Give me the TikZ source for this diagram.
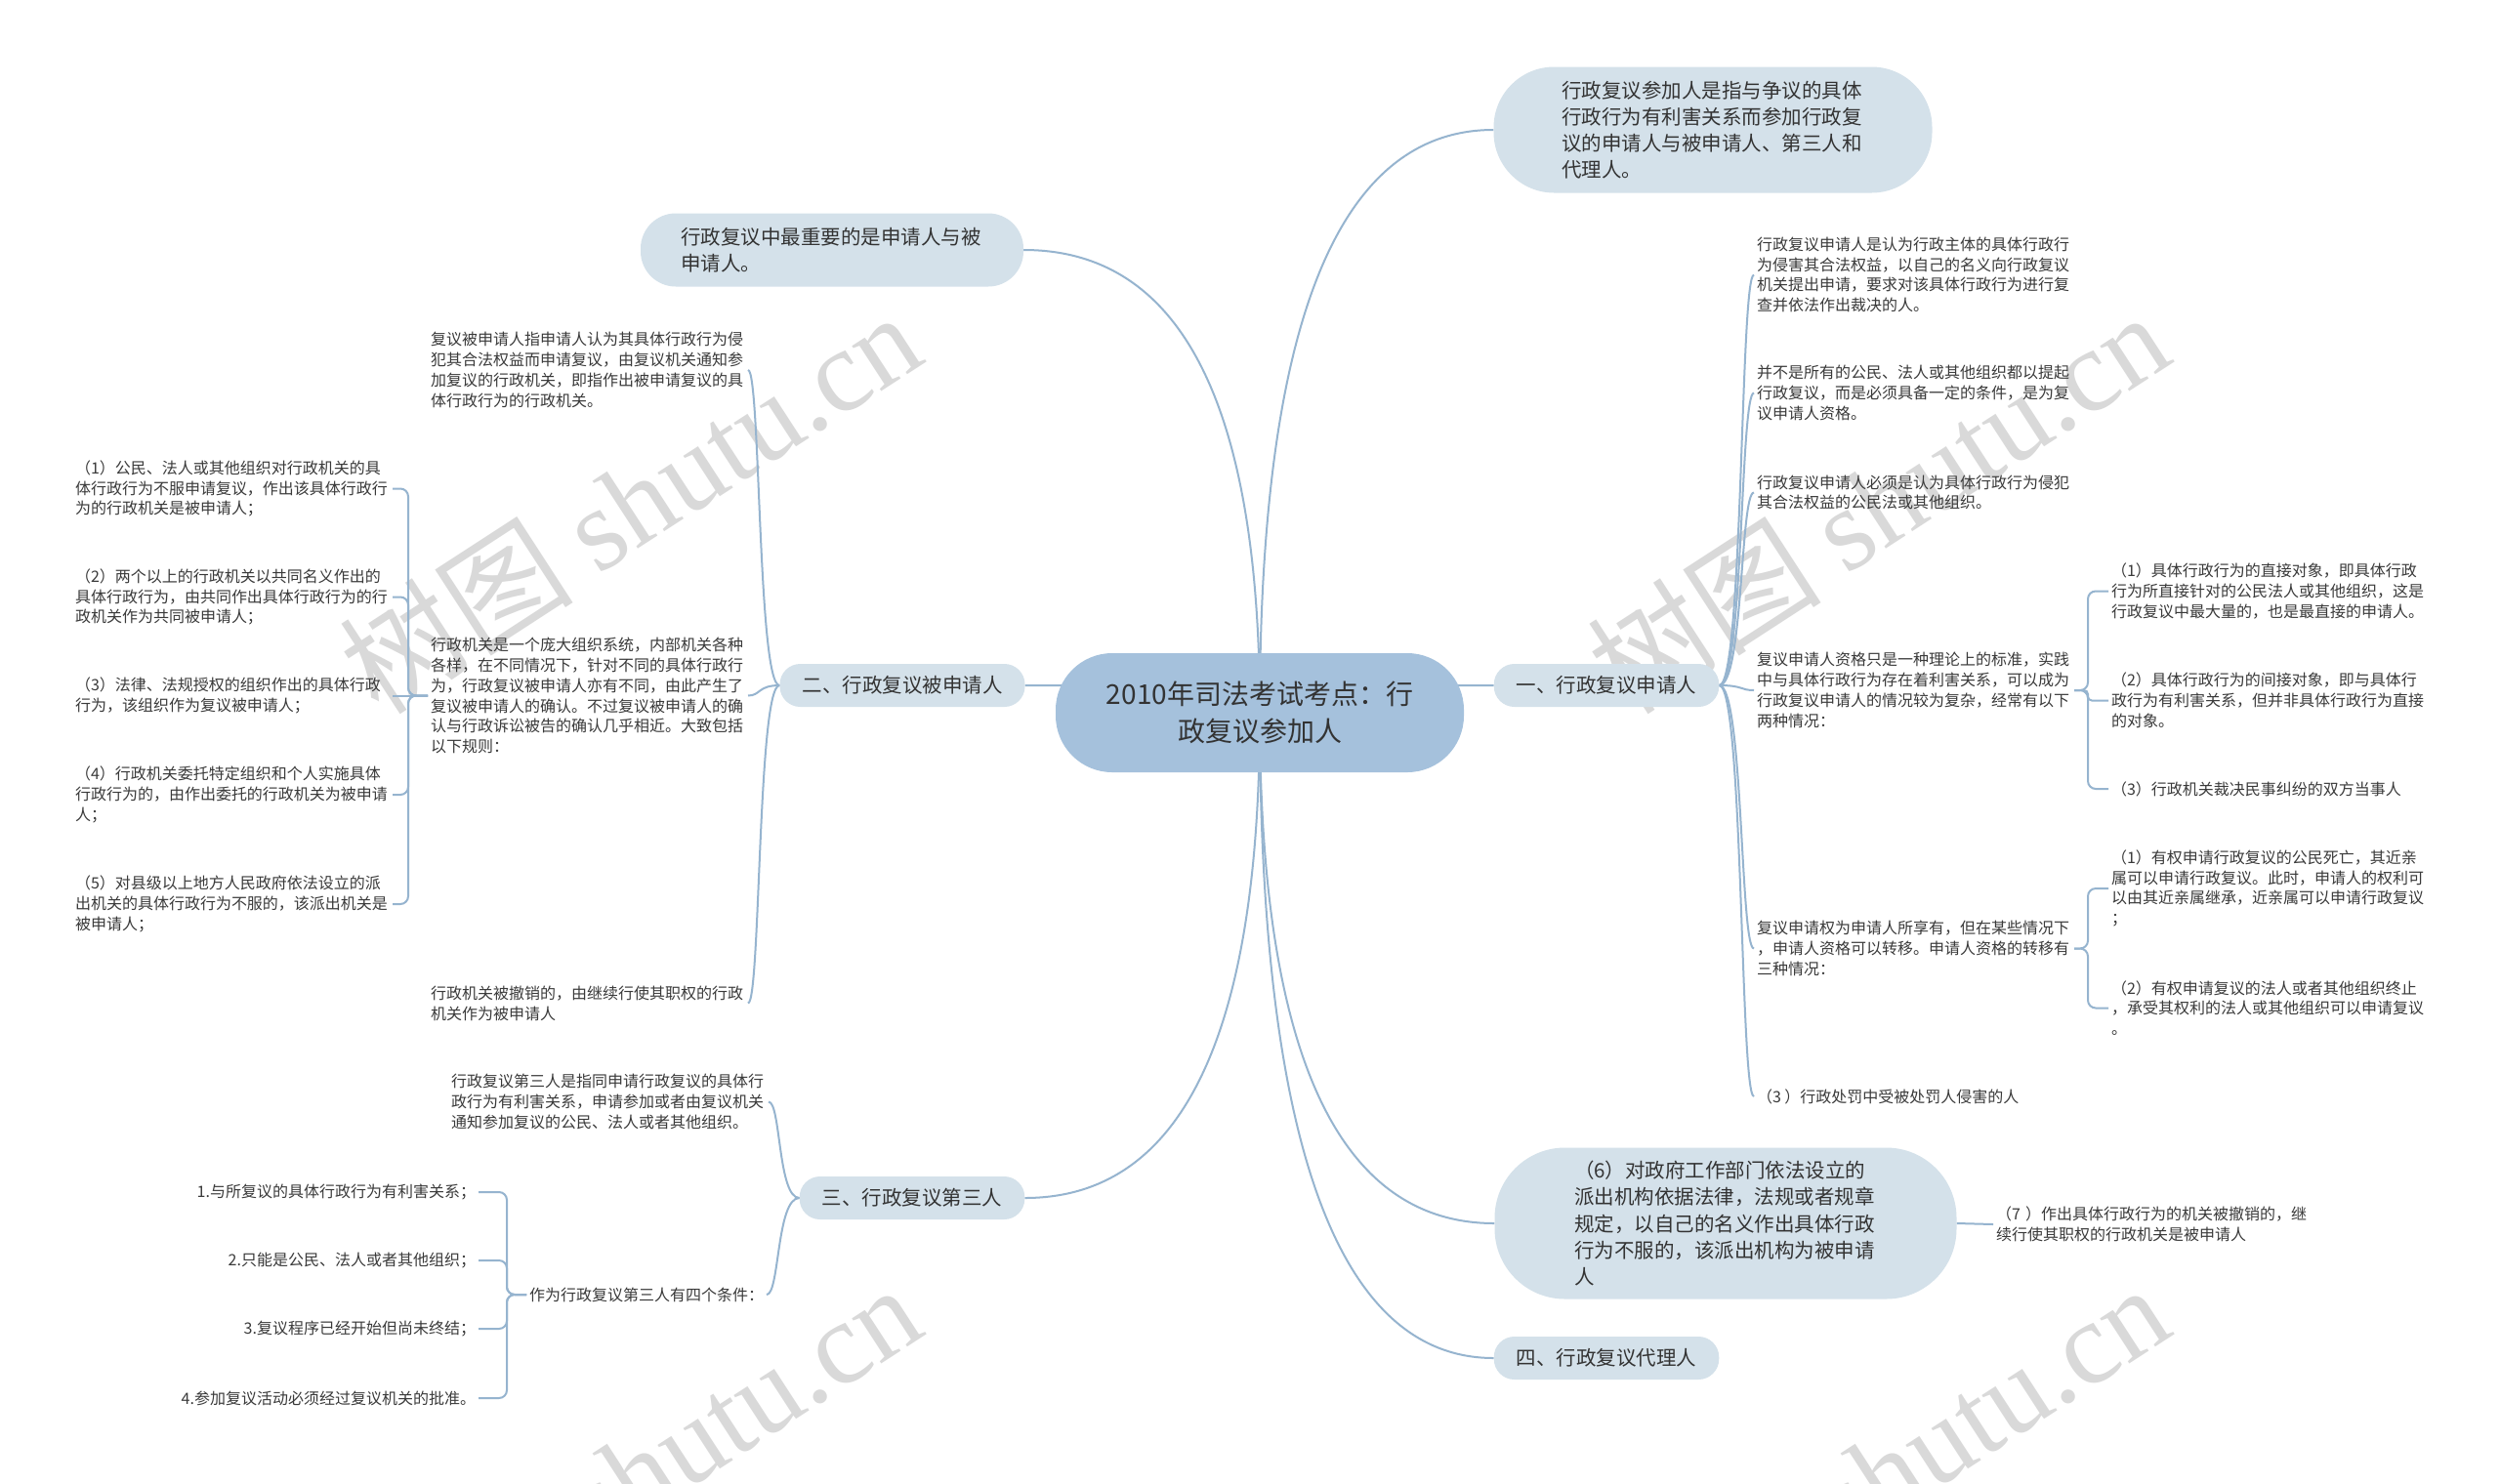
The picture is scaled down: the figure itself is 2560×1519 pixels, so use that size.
\documentclass[tikz,border=0pt]{standalone}
\usepackage{fontspec}
\setmainfont{Noto Sans CJK SC}
\newfontfamily\wmlatin{Liberation Serif}
\usetikzlibrary{calc}
\pgfdeclarelayer{wm}
\pgfdeclarelayer{background}
\pgfsetlayers{wm,background,main}
\definecolor{rootc}{HTML}{A5C1DC}
\definecolor{lonec}{HTML}{D4E1EA}
\definecolor{linec}{HTML}{96B4CF}
\definecolor{txtc}{HTML}{333333}
\definecolor{leaftxt}{HTML}{3A3A3A}
\definecolor{wmc}{HTML}{D9D9D9}
\newcommand\fsroot{\fontsize{28pt}{37.5pt}\selectfont}
\newcommand\fsone{\fontsize{20.5pt}{27.2pt}\selectfont}
\newcommand\fsleaf{\fontsize{16pt}{20.8pt}\selectfont}
\newcommand\rcurve[2]{\draw[conn] (#1) .. controls ($(#1)!0.667!(#1|-#2)$) and ($(#2)!0.667!(#1|-#2)$) .. (#2);}
\newcommand\scurve[2]{\draw[conn] (#1) .. controls ($(#1)!0.7!(#1-|#2)$) and ($(#2-|#1)!0.6!(#2)$) .. (#2);}
\newcommand\elbow[4]{\draw[conn,rounded corners=#4] (#1) -- ++(#3,0) |- (#2);}
\tikzset{
  conn/.style={draw=linec, line width=2pt},
  rootnode/.style={fill=rootc, text=txtc, font=\fsroot, align=center, minimum width=418pt, minimum height=122pt, rounded corners=58pt, inner sep=0pt},
  onenode/.style={fill=lonec, text=txtc, font=\fsone, align=left, inner ysep=0pt},
  smallone/.style={onenode, minimum height=44pt, inner xsep=23pt, rounded corners=21pt},
  leaf/.style={text=leaftxt, font=\fsleaf, align=left, inner sep=3pt, outer sep=0pt},
  wm/.style={text=wmc, font=\fontsize{120pt}{120pt}\selectfont, rotate=33, inner sep=0pt}
}
\begin{document}
\begin{tikzpicture}[x=1pt,y=-1pt]
\useasboundingbox (0,0) rectangle (2560,1519);
\begin{pgfonlayer}{wm}
\fill[white] (0,0) rectangle (2560,1519);
\node[wm] (w1) at (645,514) {树图 {\wmlatin shutu.cn}};
\node[wm] (w2) at (1923,514) {树图 {\wmlatin shutu.cn}};
\node[wm] (w3) at (645,1510) {树图 {\wmlatin shutu.cn}};
\node[wm] (w4) at (1923,1510) {树图 {\wmlatin shutu.cn}};
\end{pgfonlayer}

% root and first level
\node[rootnode] (root) at (1290,730) {2010年司法考试考点：行\\政复议参加人};
\node[onenode, text width=310pt, minimum width=449pt, minimum height=129pt, rounded corners=62pt] (A) at (1754,133)
  {行政复议参加人是指与争议的具体\\行政行为有利害关系而参加行政复\\议的申请人与被申请人、第三人和\\代理人。};
\node[smallone] (n1) at (1645,702) {一、行政复议申请人};
\node[onenode, text width=310pt, minimum width=473pt, minimum height=155pt, rounded corners=72pt] (n6) at (1767,1253)
  {（6）对政府工作部门依法设立的\\派出机构依据法律，法规或者规章\\规定，以自己的名义作出具体行政\\行为不服的，该派出机构为被申请\\人};
\node[smallone] (n4) at (1645,1391) {四、行政复议代理人};
\node[leaf, anchor=west, text width=322pt] (p7) at (2041,1254) {（7 ）作出具体行政行为的机关被撤销的，继\\续行使其职权的行政机关是被申请人};
\node[onenode, text width=310pt, minimum width=392pt, minimum height=75pt, rounded corners=36pt] (L0) at (852,256)
  {行政复议中最重要的是申请人与被\\申请人。};
\node[smallone] (n2) at (924,702) {二、行政复议被申请人};
\node[smallone] (n3) at (934,1227) {三、行政复议第三人};

% branch one
\node[leaf, anchor=west, text width=322pt] (c1) at (1796,281.5) {行政复议申请人是认为行政主体的具体行政行\\为侵害其合法权益，以自己的名义向行政复议\\机关提出申请，要求对该具体行政行为进行复\\查并依法作出裁决的人。};
\node[leaf, anchor=west, text width=322pt] (c2) at (1796,402.5) {并不是所有的公民、法人或其他组织都以提起\\行政复议，而是必须具备一定的条件，是为复\\议申请人资格。};
\node[leaf, anchor=west, text width=322pt] (c3) at (1796,504.5) {行政复议申请人必须是认为具体行政行为侵犯\\其合法权益的公民法或其他组织。};
\node[leaf, anchor=west, text width=322pt] (c4) at (1796,707) {复议申请人资格只是一种理论上的标准，实践\\中与具体行政行为存在着利害关系，可以成为\\行政复议申请人的情况较为复杂，经常有以下\\两种情况：};
\node[leaf, anchor=west, text width=322pt] (c5) at (1796,971.5) {复议申请权为申请人所享有，但在某些情况下\\，申请人资格可以转移。申请人资格的转移有\\三种情况：};
\node[leaf, anchor=west] (c6) at (1796,1123) {（3 ）行政处罚中受被处罚人侵害的人};
\node[leaf, anchor=west, text width=330pt] (d1) at (2159,605.5) {（1）具体行政行为的直接对象，即具体行政\\行为所直接针对的公民法人或其他组织，这是\\行政复议中最大量的，也是最直接的申请人。};
\node[leaf, anchor=west, text width=330pt] (d2) at (2159,717.5) {（2）具体行政行为的间接对象，即与具体行\\政行为有利害关系，但并非具体行政行为直接\\的对象。};
\node[leaf, anchor=west] (d3) at (2159,808) {（3）行政机关裁决民事纠纷的双方当事人};
\node[leaf, anchor=west, text width=330pt] (k1) at (2159,910) {（1）有权申请行政复议的公民死亡，其近亲\\属可以申请行政复议。此时，申请人的权利可\\以由其近亲属继承，近亲属可以申请行政复议\\；};
\node[leaf, anchor=west, text width=330pt] (k2) at (2159,1032.5) {（2）有权申请复议的法人或者其他组织终止\\，承受其权利的法人或其他组织可以申请复议\\。};

% branch two
\node[leaf, anchor=west, text width=322pt] (e1) at (438,379) {复议被申请人指申请人认为其具体行政行为侵\\犯其合法权益而申请复议，由复议机关通知参\\加复议的行政机关，即指作出被申请复议的具\\体行政行为的行政机关。};
\node[leaf, anchor=west, text width=322pt] (e2) at (438,712.5) {行政机关是一个庞大组织系统，内部机关各种\\各样，在不同情况下，针对不同的具体行政行\\为，行政复议被申请人亦有不同，由此产生了\\复议被申请人的确认。不过复议被申请人的确\\认与行政诉讼被告的确认几乎相近。大致包括\\以下规则：};
\node[leaf, anchor=west, text width=322pt] (e3) at (438,1027.5) {行政机关被撤销的，由继续行使其职权的行政\\机关作为被申请人};
\node[leaf, anchor=west, text width=322pt] (f1) at (74,500.5) {（1）公民、法人或其他组织对行政机关的具\\体行政行为不服申请复议，作出该具体行政行\\为的行政机关是被申请人；};
\node[leaf, anchor=west, text width=322pt] (f2) at (74,611.5) {（2）两个以上的行政机关以共同名义作出的\\具体行政行为，由共同作出具体行政行为的行\\政机关作为共同被申请人；};
\node[leaf, anchor=west, text width=322pt] (f3) at (74,712.5) {（3）法律、法规授权的组织作出的具体行政\\行为，该组织作为复议被申请人；};
\node[leaf, anchor=west, text width=322pt] (f4) at (74,814) {（4）行政机关委托特定组织和个人实施具体\\行政行为的，由作出委托的行政机关为被申请\\人；};
\node[leaf, anchor=west, text width=322pt] (f5) at (74,926) {（5）对县级以上地方人民政府依法设立的派\\出机关的具体行政行为不服的，该派出机关是\\被申请人；};

% branch three
\node[leaf, anchor=west, text width=322pt] (g1) at (459,1128.5) {行政复议第三人是指同申请行政复议的具体行\\政行为有利害关系，申请参加或者由复议机关\\通知参加复议的公民、法人或者其他组织。};
\node[leaf, anchor=west] (g2) at (539,1326) {作为行政复议第三人有四个条件：};
\node[leaf, anchor=east, align=right] (h1) at (490,1221) {1.与所复议的具体行政行为有利害关系；};
\node[leaf, anchor=east, align=right] (h2) at (490,1291) {2.只能是公民、法人或者其他组织；};
\node[leaf, anchor=east, align=right] (h3) at (490,1361) {3.复议程序已经开始但尚未终结；};
\node[leaf, anchor=east, align=right] (h4) at (490,1432) {4.参加复议活动必须经过复议机关的批准。};

\begin{pgfonlayer}{background}
\rcurve{root.center}{A.west}
\rcurve{root.center}{n1.west}
\rcurve{root.center}{n6.west}
\rcurve{root.center}{n4.west}
\rcurve{root.center}{L0.east}
\rcurve{root.center}{n2.east}
\rcurve{root.center}{n3.east}
\draw[conn] (n6.east) -- (p7.west);
\scurve{n1.east}{c1.west}
\scurve{n1.east}{c2.west}
\scurve{n1.east}{c3.west}
\scurve{n1.east}{c4.west}
\scurve{n1.east}{c5.west}
\scurve{n1.east}{c6.west}
\elbow{c4.east}{d1.west}{14}{8pt}
\elbow{c4.east}{d2.west}{14}{4pt}
\elbow{c4.east}{d3.west}{14}{8pt}
\elbow{c5.east}{k1.west}{14}{8pt}
\elbow{c5.east}{k2.west}{14}{8pt}
\scurve{n2.west}{e1.east}
\scurve{n2.west}{e2.east}
\scurve{n2.west}{e3.east}
\elbow{e2.west}{f1.east}{-20}{8pt}
\elbow{e2.west}{f2.east}{-20}{8pt}
\draw[conn] (e2.west) -- (f3.east);
\elbow{e2.west}{f4.east}{-20}{8pt}
\elbow{e2.west}{f5.east}{-20}{8pt}
\scurve{n3.west}{g1.east}
\scurve{n3.west}{g2.east}
\elbow{g2.west}{h1.east}{-20}{8pt}
\elbow{g2.west}{h2.east}{-20}{8pt}
\elbow{g2.west}{h3.east}{-20}{8pt}
\elbow{g2.west}{h4.east}{-20}{8pt}
\end{pgfonlayer}
\end{tikzpicture}
\end{document}
